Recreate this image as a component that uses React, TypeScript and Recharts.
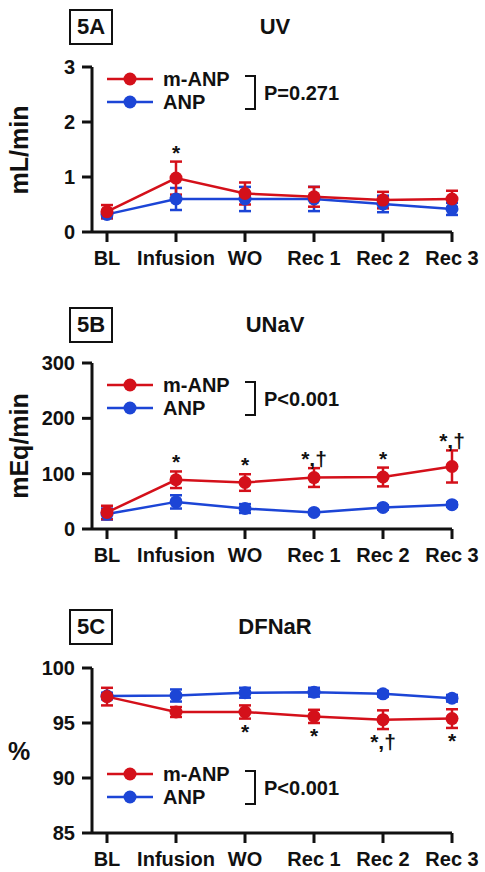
import React from "react";
import { LineChart, Line, XAxis, YAxis, ErrorBar, LabelList, Legend } from "recharts";

const categories = ["BL", "Infusion", "WO", "Rec 1", "Rec 2", "Rec 3"];
const seriesNames = ["m-ANP", "ANP"];

// 5A UV (mL/min)
const uvMANP = [0.37, 0.98, 0.7, 0.64, 0.58, 0.6];
const uvMANPErr = [0.12, 0.3, 0.2, 0.18, 0.15, 0.15];
const uvANP = [0.32, 0.6, 0.6, 0.6, 0.51, 0.42];
const uvANPErr = [0.07, 0.2, 0.22, 0.22, 0.15, 0.11];
const uvNotes = ["", "*", "", "", "", ""];

// 5B UNaV (mEq/min)
const unavMANP = [30, 89, 84, 93, 94, 113];
const unavMANPErr = [12, 15, 15, 17, 17, 29];
const unavANP = [27, 49, 37, 30, 39, 44];
const unavANPErr = [10, 12, 8, 3, 4, 4];
const unavNotes = ["", "*", "*", "*,†", "*", "*,†"];

// 5C DFNaR (%)
const dfMANP = [97.4, 96.0, 96.0, 95.6, 95.3, 95.4];
const dfMANPErr = [0.8, 0.45, 0.6, 0.6, 0.85, 0.85];
const dfANP = [97.45, 97.5, 97.75, 97.8, 97.65, 97.25];
const dfANPErr = [0.3, 0.55, 0.45, 0.4, 0.25, 0.3];
const dfNotes = ["", "", "*", "*", "*,†", "*"];

const RED = "#d4101a";
const BLUE = "#1c45d6";
const INK = "#111";
const FONT = '"Liberation Sans", Arial, sans-serif';

function buildRows(red, redErr, blue, blueErr, notes) {
  return categories.map((cat, i) => ({
    cat,
    red: red[i],
    redErr: redErr[i],
    blue: blue[i],
    blueErr: blueErr[i],
    note: notes[i],
  }));
}

function LegendBox({ pText }) {
  return (
    <svg width={270} height={50} style={{ display: "block", overflow: "visible" }}>
      {[RED, BLUE].map((c, i) => (
        <g key={i}>
          <line x1={7} x2={53} y1={10 + i * 23} y2={10 + i * 23} stroke={c} strokeWidth={2.5} />
          <circle cx={30} cy={10 + i * 23} r={6.5} fill={c} />
          <text x={63} y={10 + i * 23} dominantBaseline="central" fontFamily={FONT} fontWeight="bold" fontSize={20} fill={INK}>
            {seriesNames[i]}
          </text>
        </g>
      ))}
      <polyline points="145,7 155,7 155,40 145,40" fill="none" stroke={INK} strokeWidth={2} />
      <text x={164} y={24} dominantBaseline="central" fontFamily={FONT} fontWeight="bold" fontSize={20} fill={INK}>
        {pText}
      </text>
    </svg>
  );
}

function Panel({ tag, title, yLabel, rotateLabel, rows, domain, ticks, height, top, bottom, boxTop, legendTop, pText, below }) {
  const plotMid = (top + (height - bottom - 36)) / 2;
  const noteLabel = (props) => {
    const { x, y, value } = props;
    if (!value) return null;
    return (
      <text x={x} y={below ? y + 20 : y - 2} textAnchor="middle" fontFamily={FONT} fontWeight="bold" fontSize={21} fill={INK}>
        {value}
      </text>
    );
  };
  return (
    <div style={{ position: "relative", width: 485, height }}>
      <LineChart width={485} height={height} data={rows} margin={{ top, right: 33, bottom, left: 0 }}>
        <XAxis
          dataKey="cat"
          scale="point"
          padding={{ left: 15, right: 0 }}
          height={36}
          axisLine={{ stroke: INK, strokeWidth: 3 }}
          tickLine={{ stroke: INK, strokeWidth: 3 }}
          tickSize={10}
          tickMargin={9}
          tick={{ fill: INK, fontSize: 20, fontWeight: "bold", fontFamily: FONT }}
          interval={0}
        />
        <YAxis
          width={92}
          domain={domain}
          ticks={ticks}
          allowDataOverflow
          axisLine={{ stroke: INK, strokeWidth: 3 }}
          tickLine={{ stroke: INK, strokeWidth: 3 }}
          tickSize={10}
          tickMargin={7}
          tick={{ fill: INK, fontSize: 20, fontWeight: "bold", fontFamily: FONT }}
        />
        <Line
          dataKey="blue"
          name={seriesNames[1]}
          stroke={BLUE}
          strokeWidth={2.5}
          dot={{ r: 6.5, fill: BLUE, stroke: BLUE, strokeWidth: 0 }}
          activeDot={false}
          isAnimationActive={false}
        >
          <ErrorBar dataKey="blueErr" direction="y" width={6} strokeWidth={2.5} stroke={BLUE} />
        </Line>
        <Line
          dataKey="red"
          name={seriesNames[0]}
          stroke={RED}
          strokeWidth={2.5}
          dot={{ r: 6.5, fill: RED, stroke: RED, strokeWidth: 0 }}
          activeDot={false}
          isAnimationActive={false}
        >
          <ErrorBar dataKey="redErr" direction="y" width={6} strokeWidth={2.5} stroke={RED} />
        </Line>
        <Line
          dataKey={(d) => (below ? d.red - d.redErr : d.red + d.redErr)}
          stroke="none"
          dot={false}
          activeDot={false}
          legendType="none"
          isAnimationActive={false}
        >
          <LabelList dataKey="note" content={noteLabel} />
        </Line>
        <Legend
          layout="vertical"
          align="center"
          verticalAlign="middle"
          wrapperStyle={{ left: 100, top: legendTop, width: 270, height: 50 }}
          content={() => <LegendBox pText={pText} />}
        />
      </LineChart>
      <div
        style={{
          position: "absolute",
          left: 69,
          top: boxTop,
          width: 40,
          height: 32,
          border: "2px solid #111",
          fontFamily: FONT,
          fontWeight: "bold",
          fontSize: 22,
          lineHeight: "32px",
          textAlign: "center",
          color: INK,
        }}
      >
        {tag}
      </div>
      <div
        style={{
          position: "absolute",
          left: 275,
          top: boxTop + 18,
          transform: "translate(-50%, -50%)",
          fontFamily: FONT,
          fontWeight: "bold",
          fontSize: 22,
          color: INK,
          whiteSpace: "nowrap",
        }}
      >
        {title}
      </div>
      <div
        style={{
          position: "absolute",
          left: 19,
          top: plotMid,
          transform: rotateLabel ? "translate(-50%, -50%) rotate(-90deg)" : "translate(-50%, -50%)",
          fontFamily: FONT,
          fontWeight: "bold",
          fontSize: 25,
          color: INK,
          whiteSpace: "nowrap",
        }}
      >
        {yLabel}
      </div>
    </div>
  );
}

export default function App() {
  return (
    <div style={{ position: "absolute", left: 0, top: 0, width: 485, height: 872, background: "#fff" }}>
      <Panel
        tag="5A"
        title="UV"
        yLabel="mL/min"
        rotateLabel
        rows={buildRows(uvMANP, uvMANPErr, uvANP, uvANPErr, uvNotes)}
        domain={[0, 3]}
        ticks={[0, 1, 2, 3]}
        height={290}
        top={67}
        bottom={22}
        boxTop={9}
        legendTop={69}
        pText="P=0.271"
        below={false}
      />
      <Panel
        tag="5B"
        title="UNaV"
        yLabel="mEq/min"
        rotateLabel
        rows={buildRows(unavMANP, unavMANPErr, unavANP, unavANPErr, unavNotes)}
        domain={[0, 300]}
        ticks={[0, 100, 200, 300]}
        height={290}
        top={73}
        bottom={15}
        boxTop={17}
        legendTop={85}
        pText="P<0.001"
        below={false}
      />
      <Panel
        tag="5C"
        title="DFNaR"
        yLabel="%"
        rotateLabel={false}
        rows={buildRows(dfMANP, dfMANPErr, dfANP, dfANPErr, dfNotes)}
        domain={[85, 100]}
        ticks={[85, 90, 95, 100]}
        height={292}
        top={88}
        bottom={3}
        boxTop={29}
        legendTop={184}
        pText="P<0.001"
        below
      />
    </div>
  );
}
